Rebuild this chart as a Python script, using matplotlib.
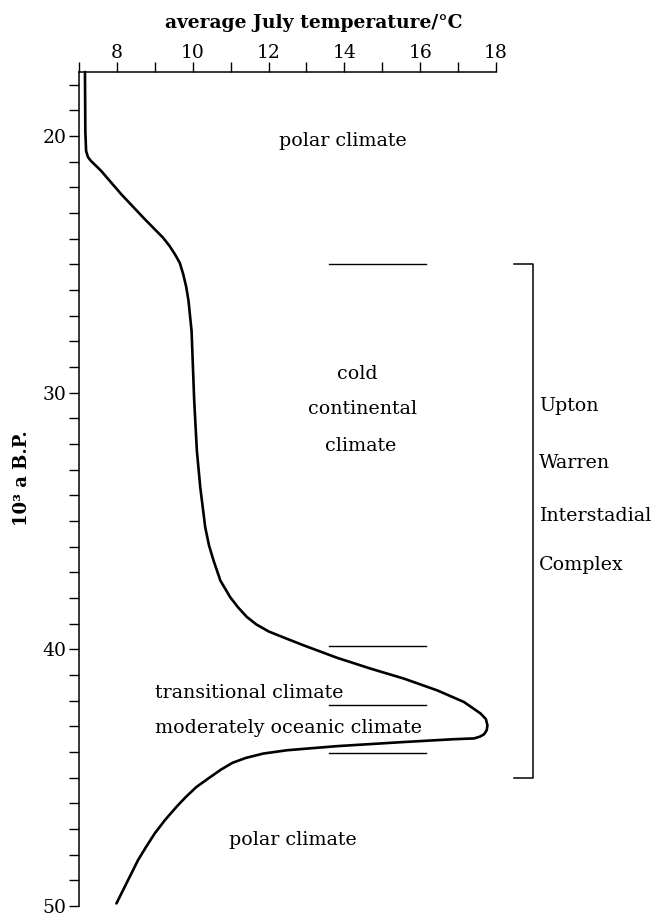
import matplotlib
matplotlib.use("Agg")
import matplotlib.pyplot as plt

plt.rcParams['font.family'] = ['DejaVu Serif']

# curve: temperature (deg C) vs age (10^3 a B.P.)
temp = [7.16, 7.17, 7.18, 7.19, 7.24, 7.32, 7.46, 7.59, 8.12, 8.74, 9.22,
        9.39, 9.53, 9.66, 9.75, 9.83, 9.89, 9.97, 10.04, 10.11, 10.20, 10.33,
        10.43, 10.55, 10.73, 10.99, 11.20, 11.43, 11.68, 12.00, 12.42, 12.92,
        13.81, 14.69, 15.57, 16.45, 17.15, 17.59, 17.73, 17.77, 17.75, 17.68,
        17.57, 17.42, 16.89, 15.57, 13.81, 12.49, 11.86, 11.40, 11.05, 10.75,
        10.46, 10.10, 9.82, 9.57, 9.27, 9.00, 8.77, 8.56, 7.99]
age = [17.5, 19.81, 20.19, 20.58, 20.82, 20.97, 21.17, 21.36, 22.27, 23.24,
       23.96, 24.28, 24.60, 24.94, 25.38, 25.88, 26.42, 27.59, 30.31, 32.26,
       33.69, 35.24, 35.95, 36.54, 37.32, 37.97, 38.37, 38.74, 39.03, 39.30,
       39.55, 39.84, 40.33, 40.75, 41.14, 41.60, 42.05, 42.50, 42.72, 42.96,
       43.15, 43.31, 43.40, 43.47, 43.50, 43.61, 43.77, 43.93, 44.06, 44.23,
       44.42, 44.68, 44.98, 45.36, 45.75, 46.14, 46.65, 47.17, 47.70, 48.21,
       49.90]

boundaries = [25.0, 39.88, 42.18, 44.03]
bound_x = (13.58, 16.14)
bracket = (25.0, 45.0)
bracket_x = (18.46, 18.96)

fig = plt.figure(figsize=(6.52, 9.17), dpi=100)
ax = fig.add_axes([0.121, 0.012, 0.64, 0.9095])

ax.plot(temp, age, color='black', lw=1.9, clip_on=False,
        solid_joinstyle='round', solid_capstyle='round')
for b in boundaries:
    ax.plot(bound_x, [b, b], color='black', lw=1.0)
ax.plot([bracket_x[0], bracket_x[1], bracket_x[1], bracket_x[0]],
        [bracket[0], bracket[0], bracket[1], bracket[1]],
        color='black', lw=1.1, clip_on=False)

ax.set_xlim(7, 18)
ax.set_ylim(50, 17.5)
ax.xaxis.tick_top()
ax.set_xticks(range(8, 19, 2))
ax.set_xticks(range(7, 19), minor=True)
ax.set_yticks([20, 30, 40, 50])
ax.set_yticks(range(18, 51), minor=True)
ax.tick_params(which='both', direction='out', length=7, width=1.0, color='black')
ax.tick_params(axis='x', which='major', labelsize=13.5, pad=0.5)
ax.tick_params(axis='y', which='major', labelsize=13.5, pad=2)
for s in ['right', 'bottom']:
    ax.spines[s].set_visible(False)
for s in ['left', 'top']:
    ax.spines[s].set_linewidth(1.1)

fs = 13.7
ax.text(13.96, 20.2, 'polar climate', ha='center', va='center', fontsize=fs)
ax.text(14.34, 29.26, 'cold', ha='center', va='center', fontsize=fs)
ax.text(14.48, 30.62, 'continental', ha='center', va='center', fontsize=fs)
ax.text(14.42, 32.06, 'climate', ha='center', va='center', fontsize=fs)
ax.text(9.0, 41.71, 'transitional climate', ha='left', va='center', fontsize=fs)
ax.text(9.0, 43.07, 'moderately oceanic climate', ha='left', va='center', fontsize=fs)
ax.text(12.65, 47.43, 'polar climate', ha='center', va='center', fontsize=fs)
for lab, a in zip(['Upton', 'Warren', 'Interstadial', 'Complex'],
                  [30.5, 32.72, 34.79, 36.73]):
    ax.text(19.13, a, lab, ha='left', va='center', fontsize=fs, clip_on=False)

fig.text(314 / 652, 1 - 23 / 917, 'average July temperature/°C', ha='center',
         va='center', fontsize=13.5, fontweight='bold')
fig.text(22 / 652, 1 - 478 / 917, '10³ a B.P.', ha='center', va='center',
         rotation=90, fontsize=13, fontweight='bold')

fig.savefig('out.png', dpi=100)
